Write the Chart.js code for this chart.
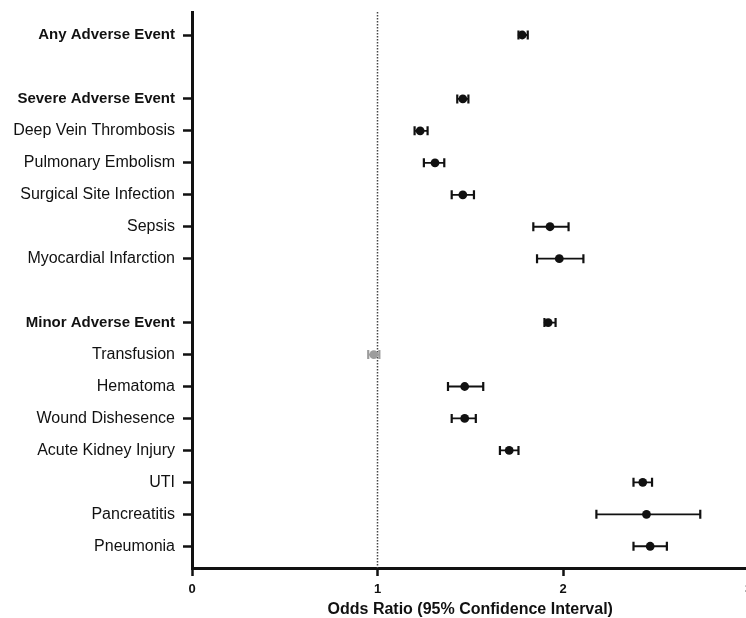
<!DOCTYPE html>
<html>
<head>
<meta charset="utf-8">
<script src="https://cdn.jsdelivr.net/npm/chart.js@4/dist/chart.umd.min.js"></script>
<style>
  html, body { margin: 0; padding: 0; background: #fff; overflow: hidden; width: 746px; height: 618px; }
  #wrap { position: absolute; left: 0; top: 0; width: 760px; height: 618px; }
</style>
</head>
<body>
<div id="wrap"><canvas id="c"></canvas></div>
<script>
// ---- Data ----
const categories = [
  "Any Adverse Event", "",
  "Severe Adverse Event", "Deep Vein Thrombosis", "Pulmonary Embolism",
  "Surgical Site Infection", "Sepsis", "Myocardial Infarction", "",
  "Minor Adverse Event", "Transfusion", "Hematoma", "Wound Dishesence",
  "Acute Kidney Injury", "UTI", "Pancreatitis", "Pneumonia"
];
const headerRows = ["Any Adverse Event", "Severe Adverse Event", "Minor Adverse Event"];
const oddsRatio = [1.78, null, 1.46, 1.23, 1.31, 1.46, 1.93, 1.98, null, 1.92, 0.98, 1.47, 1.47, 1.71, 2.43, 2.45, 2.47];
const ciLower   = [1.76, null, 1.43, 1.20, 1.25, 1.40, 1.84, 1.86, null, 1.90, 0.95, 1.38, 1.40, 1.66, 2.38, 2.18, 2.38];
const ciUpper   = [1.81, null, 1.49, 1.27, 1.36, 1.52, 2.03, 2.11, null, 1.96, 1.01, 1.57, 1.53, 1.76, 2.48, 2.74, 2.56];
const xTicks = [0, 1, 2, 3];
const referenceOR = 1;

// ---- Build ----
const rowIdx = categories.map((_, i) => i);
const rowsWithData = rowIdx.filter(i => oddsRatio[i] !== null);
const colorFor = i => (ciLower[i] <= referenceOR && ciUpper[i] >= referenceOR) ? '#9c9c9c' : '#111111';
const yMin = -0.72, yMax = 16.68;

const datasets = [];
datasets.push({
  label: 'OR',
  data: rowsWithData.map(i => ({ x: oddsRatio[i], y: i })),
  pointRadius: 4.4,
  pointBackgroundColor: rowsWithData.map(colorFor),
  pointBorderColor: rowsWithData.map(colorFor),
  pointBorderWidth: 0,
  showLine: false
});
rowsWithData.forEach(i => {
  datasets.push({
    label: 'CI ' + categories[i],
    data: [{ x: ciLower[i], y: i }, { x: ciUpper[i], y: i }],
    showLine: true,
    borderColor: colorFor(i),
    borderWidth: 1.8,
    pointStyle: 'line',
    rotation: 90,
    pointRadius: 4.5,
    pointBorderWidth: 2.2,
    pointBorderColor: colorFor(i)
  });
});
datasets.push({
  label: 'ref',
  data: [{ x: referenceOR, y: yMin }, { x: referenceOR, y: yMax }],
  showLine: true,
  borderColor: '#444',
  borderWidth: 1.5,
  borderDash: [1.5, 1.5],
  pointRadius: 0
});

new Chart(document.getElementById('c'), {
  type: 'scatter',
  data: { datasets },
  options: {
    responsive: true,
    maintainAspectRatio: false,
    animation: false,
    layout: { padding: { top: 12, right: 11.5, left: 0, bottom: 0 } },
    plugins: { legend: { display: false }, tooltip: { enabled: false } },
    scales: {
      x: {
        type: 'linear',
        min: 0, max: 3,
        afterBuildTicks: s => { s.ticks = xTicks.map(v => ({ value: v })); },
        afterFit: s => { s.height = 50; },
        border: { display: true, color: '#111', width: 3 },
        grid: { drawOnChartArea: false, drawTicks: true, tickLength: 8, tickWidth: 2.5, tickColor: '#111' },
        ticks: { color: '#111', padding: 6, font: { family: 'Liberation Sans', size: 13, weight: 'bold' } },
        title: {
          display: true, text: 'Odds Ratio (95% Confidence Interval)', color: '#111',
          padding: { top: 0, bottom: 0 },
          font: { family: 'Liberation Sans', size: 16, weight: 'bold', lineHeight: 1 }
        }
      },
      y: {
        type: 'linear',
        reverse: true,
        min: yMin, max: yMax,
        afterBuildTicks: s => { s.ticks = rowsWithData.map(i => ({ value: i })); },
        afterFit: s => { s.width = 192; s.paddingTop = 0; s.paddingBottom = 0; },
        border: { display: true, color: '#111', width: 3 },
        grid: { drawOnChartArea: false, drawTicks: true, tickLength: 9, tickWidth: 2.5, tickColor: '#111' },
        ticks: {
          color: '#111',
          padding: 8,
          autoSkip: false,
          callback: v => categories[v],
          font: ctx => {
            const lab = categories[ctx.tick ? ctx.tick.value : 0];
            const bold = headerRows.includes(lab);
            return { family: 'Liberation Sans', size: bold ? 15 : 16, weight: bold ? 'bold' : 'normal', lineHeight: 1 };
          }
        }
      }
    }
  }
});
</script>
</body>
</html>
